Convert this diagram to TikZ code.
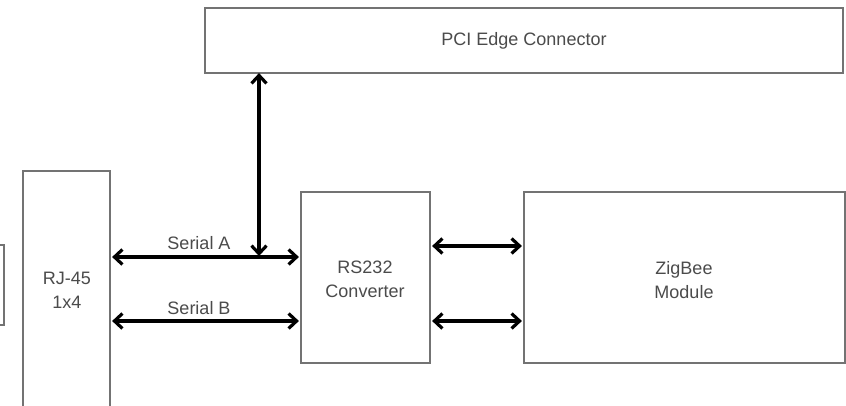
\documentclass[tikz,border=0pt]{standalone}
\usepackage{fontspec}
\setmainfont{Liberation Sans}
\usetikzlibrary{arrows.meta}
\definecolor{boxline}{RGB}{115,115,115}
\definecolor{txt}{RGB}{75,75,75}
\tikzset{
  blk/.style={draw=boxline, line width=2.2pt, rectangle, inner sep=0pt, fill=white},
  lbl/.style={text=txt, font=\fontsize{18}{24}\selectfont, align=center, inner sep=0pt},
  biarr/.style={line width=3.2pt, black, {Straight Barb[length=8pt,width=15pt]}-{Straight Barb[length=8pt,width=15pt]}},
}
\begin{document}
\begin{tikzpicture}[x=1pt,y=-1pt]
\useasboundingbox[fill=white] (0,0) rectangle (846,406);
\begin{scope}
\clip (0,0) rectangle (846,406);
% boxes
\node[blk, minimum width=638pt, minimum height=65pt] (pci) at (524,40.5) {};
\node[lbl] (pcit) at (pci.center) {PCI Edge Connector};
\node[blk, minimum width=87pt, minimum height=260pt] (rj) at (66.5,301) {};
\node[lbl] (rjt) at (67,290) {RJ-45\\1x4};
\node[blk, minimum width=30pt, minimum height=80pt] (side) at (-11,285) {};
\node[blk, minimum width=129pt, minimum height=171pt] (rs) at (365.5,277.5) {};
\node[lbl] (rst) at (365,279) {RS232\\Converter};
\node[blk, minimum width=321pt, minimum height=171pt] (zb) at (684.5,277.5) {};
\node[lbl] (zbt) at (684,280) {ZigBee\\Module};
% helper coordinates
\coordinate (ya) at (0,257);
\coordinate (yb) at (0,321);
\coordinate (yc) at (0,246);
\coordinate (vx) at (259,0);
\coordinate (vend) at (259,256);
% connectors
\draw[biarr] ([xshift=1pt]rj.east |- ya) -- ([xshift=-1pt]rs.west |- ya);
\draw[biarr] ([xshift=1pt]rj.east |- yb) -- ([xshift=-1pt]rs.west |- yb);
\draw[biarr] ([xshift=1pt]rs.east |- yc) -- ([xshift=-1pt]zb.west |- yc);
\draw[biarr] ([xshift=1pt]rs.east |- yb) -- ([xshift=-1pt]zb.west |- yb);
\draw[biarr] ([yshift=1pt]pci.south -| vx) -- (vend);
\node[lbl] (sa) at (199,243) {Serial A};
\node[lbl] (sb) at (199,308) {Serial B};
\end{scope}
\end{tikzpicture}
\end{document}
